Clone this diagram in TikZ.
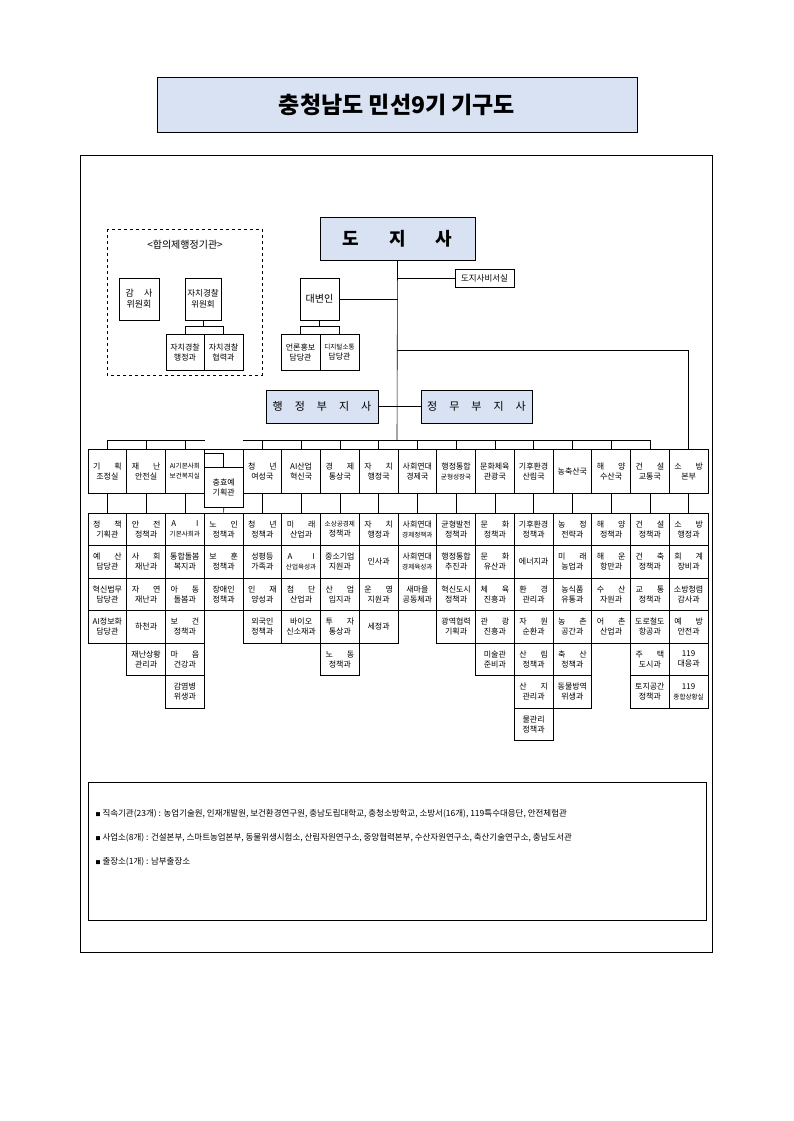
\documentclass[tikz,border=0pt]{standalone}
\usepackage{fontspec}
\setmainfont{Noto Sans CJK KR}
\usetikzlibrary{positioning}
\definecolor{headblue}{HTML}{D9E2F3}
\tikzset{
  box/.style={draw, inner sep=0pt, align=center, font=\fontsize{8}{10}\selectfont},
  bur/.style={box, minimum width=38.75pt, minimum height=44pt},
  dept/.style={box, minimum width=38.75pt, minimum height=32.5pt},
  head/.style={draw, fill=headblue, inner sep=0pt}
}
\newcommand\sm{\fontsize{6.6}{10}\selectfont}
\newcommand\deptcol[2]{%
  \foreach \t [count=\r from 0] in {#2}
    {\node[dept] (d#1-\r) at ({88+38.75*#1+19.375},{529.25+32.5*\r}) {\t};}
  \draw (b#1.south) -- (d#1-0.north);}
\begin{document}
\begin{tikzpicture}[x=1pt, y=-1pt, line width=0.6pt]
    \useasboundingbox (0,0) rectangle (793,1121);
    % Title and frame
    \node [head, line width=1pt, minimum width=480pt, minimum height=55pt, font=\bfseries\fontsize{23}{26}\selectfont] (title) at (397,105) {충청남도 민선9기 기구도};
    \draw [line width=0.8pt] (80,155) rectangle (712,952);

    % Governor and staff
    \node [head, minimum width=155pt, minimum height=43pt, font=\bfseries\fontsize{18}{20}\selectfont] (gov) at (397.5,238.5) {도\hspace{30pt}지\hspace{30pt}사};
    \node [box, minimum width=59pt, minimum height=18pt, font=\fontsize{8.5}{9}\selectfont] (sec) at (484.5,278) {도지사비서실};
    \node [box, minimum width=39pt, minimum height=42pt, font=\fontsize{10}{11}\selectfont] (spk) at (319.5,299) {대변인};
    \node [box, minimum width=39pt, minimum height=36pt] (pr) at (300.5,352) {언론홍보\\담당관};
    \node [box, minimum width=39pt, minimum height=36pt] (dig) at (339.5,352) {{\sm 디지털소통}\\담당관};
    \node [head, minimum width=112pt, minimum height=33pt, font=\fontsize{11}{12}\selectfont] (vadm) at (322,406.5) {행\hspace{12pt}정\hspace{12pt}부\hspace{12pt}지\hspace{12pt}사};
    \node [head, minimum width=111pt, minimum height=33pt, font=\fontsize{11}{12}\selectfont] (vpol) at (476.5,406.5) {정\hspace{12pt}무\hspace{12pt}부\hspace{12pt}지\hspace{12pt}사};

    % Consultative bodies
    \draw [dashed, line width=0.4pt] (107,229) rectangle (262,375);
    \node [font=\fontsize{10}{11}\selectfont] (cons) at (185,245) {<합의제행정기관>};
    \node [box, minimum width=40pt, minimum height=42pt, font=\fontsize{9}{11}\selectfont] (audit) at (139,299) {감\hspace{10pt}사\\위원회};
    \node [box, minimum width=36pt, minimum height=42pt, font=\fontsize{8.5}{11}\selectfont] (police) at (203,299) {자치경찰\\위원회};
    \node [box, minimum width=38pt, minimum height=36pt] (pol1) at (185,352) {자치경찰\\행정과};
    \node [box, minimum width=39pt, minimum height=36pt] (pol2) at (223.5,352) {자치경찰\\협력과};

    % Bureaus
    \foreach \t [count=\c from 0] in {{기\hspace{14pt}획\\조정실},{재\hspace{14pt}난\\안전실},{{\sm AI기본사회}\\{\sm 보건복지실}},{},
        {청\hspace{14pt}년\\여성국},{AI산업\\혁신국},{경\hspace{14pt}제\\통상국},{자\hspace{14pt}치\\행정국},
        {사회연대\\경제국},{행정통합\\{\sm 균형성장국}},{문화체육\\관광국},{기후환경\\산림국},{농축산국},
        {해\hspace{14pt}양\\수산국},{건\hspace{14pt}설\\교통국},{소\hspace{14pt}방\\본부}}
      {\node [bur] (b\c) at ({88+38.75*\c+19.375},471) {\t};}
    \node [box, fill=white, minimum width=38.75pt, minimum height=40pt] (b3) at (223.75,487) {충효예\\기획관};

    % Paths
    \coordinate (top) at (397,350);
    \coordinate (bus) at (397,440);
    \draw (gov.south) -- (bus);
    \draw (sec.west) -- (sec.west -| gov.south);
    \draw (spk.east) -- (spk.east -| gov.south);
    \draw (spk.south) -- ++(0,6) -| (pr.north);
    \draw (spk.south) ++(0,6) -| (dig.north);
    \draw (police.south) -- ++(0,6) -| (pol1.north);
    \draw (police.south) ++(0,6) -| (pol2.north);
    \draw (vadm.east) -- (vpol.west);
    \draw (top) -| (b15.north);
    \draw (b0.north |- bus) -- (b2.north east |- bus);
    \draw (b4.north west |- bus) -- (b14.north |- bus);
    \foreach \c in {0,1,2,4,5,6,7,8,9,10,11,12,13,14}
      {\draw (b\c.north |- bus) -- (b\c.north);}
    \draw ([yshift=-5pt]b2.north east) -| (b3.north);

    % Departments
    \deptcol{0}{{정\hspace{14pt}책\\기획관},{예\hspace{14pt}산\\담당관},{혁신법무\\담당관},{AI정보화\\담당관}}
    \deptcol{1}{{안\hspace{14pt}전\\정책과},{사\hspace{14pt}회\\재난과},{자\hspace{14pt}연\\재난과},{하천과},{재난상황\\관리과}}
    \deptcol{2}{{A\hspace{20pt}I\\{\sm 기본사회과}},{통합돌봄\\복지과},{아\hspace{14pt}동\\돌봄과},{보\hspace{14pt}건\\정책과},{마\hspace{14pt}음\\건강과},{감염병\\위생과}}
    \deptcol{3}{{노\hspace{14pt}인\\정책과},{보\hspace{14pt}훈\\정책과},{장애인\\정책과}}
    \deptcol{4}{{청\hspace{14pt}년\\정책과},{성평등\\가족과},{인\hspace{14pt}재\\양성과},{외국인\\정책과}}
    \deptcol{5}{{미\hspace{14pt}래\\산업과},{A\hspace{20pt}I\\{\sm 산업육성과}},{첨\hspace{14pt}단\\산업과},{바이오\\신소재과}}
    \deptcol{6}{{{\sm 소상공경제}\\정책과},{중소기업\\지원과},{산\hspace{14pt}업\\입지과},{투\hspace{14pt}자\\통상과},{노\hspace{14pt}동\\정책과}}
    \deptcol{7}{{자\hspace{14pt}치\\행정과},{인사과},{운\hspace{14pt}영\\지원과},{세정과}}
    \deptcol{8}{{사회연대\\{\sm 경제정책과}},{사회연대\\{\sm 경제육성과}},{새마을\\공동체과}}
    \deptcol{9}{{균형발전\\정책과},{행정통합\\추진과},{혁신도시\\정책과},{광역협력\\기획과}}
    \deptcol{10}{{문\hspace{14pt}화\\정책과},{문\hspace{14pt}화\\유산과},{체\hspace{14pt}육\\진흥과},{관\hspace{14pt}광\\진흥과},{미술관\\준비과}}
    \deptcol{11}{{기후환경\\정책과},{에너지과},{환\hspace{14pt}경\\관리과},{자\hspace{14pt}원\\순환과},{산\hspace{14pt}림\\정책과},{산\hspace{14pt}지\\관리과},{물관리\\정책과}}
    \deptcol{12}{{농\hspace{14pt}정\\전략과},{미\hspace{14pt}래\\농업과},{농식품\\유통과},{농\hspace{14pt}촌\\공간과},{축\hspace{14pt}산\\정책과},{동물방역\\위생과}}
    \deptcol{13}{{해\hspace{14pt}양\\정책과},{해\hspace{14pt}운\\항만과},{수\hspace{14pt}산\\자원과},{어\hspace{14pt}촌\\산업과}}
    \deptcol{14}{{건\hspace{14pt}설\\정책과},{건\hspace{14pt}축\\정책과},{교\hspace{14pt}통\\정책과},{도로철도\\항공과},{주\hspace{14pt}택\\도시과},{토지공간\\정책과}}
    \deptcol{15}{{소\hspace{14pt}방\\행정과},{회\hspace{14pt}계\\장비과},{소방청렴\\감사과},{예\hspace{14pt}방\\안전과},{119\\대응과},{119\\{\sm 종합상황실}}}

    % Notes
    \draw (88,782) rectangle (706,920);
    \node [anchor=west, align=left, font=\fontsize{8.5}{24}\selectfont] (notes) at (92,838)
      {{\tiny ■} 직속기관(23개) : 농업기술원, 인재개발원, 보건환경연구원, 충남도립대학교, 충청소방학교, 소방서(16개), 119특수대응단, 안전체험관\\
       {\tiny ■} 사업소(8개) : 건설본부, 스마트농업본부, 동물위생시험소, 산림자원연구소, 중앙협력본부, 수산자원연구소, 축산기술연구소, 충남도서관\\
       {\tiny ■} 출장소(1개) : 남부출장소};
\end{tikzpicture}
\end{document}
